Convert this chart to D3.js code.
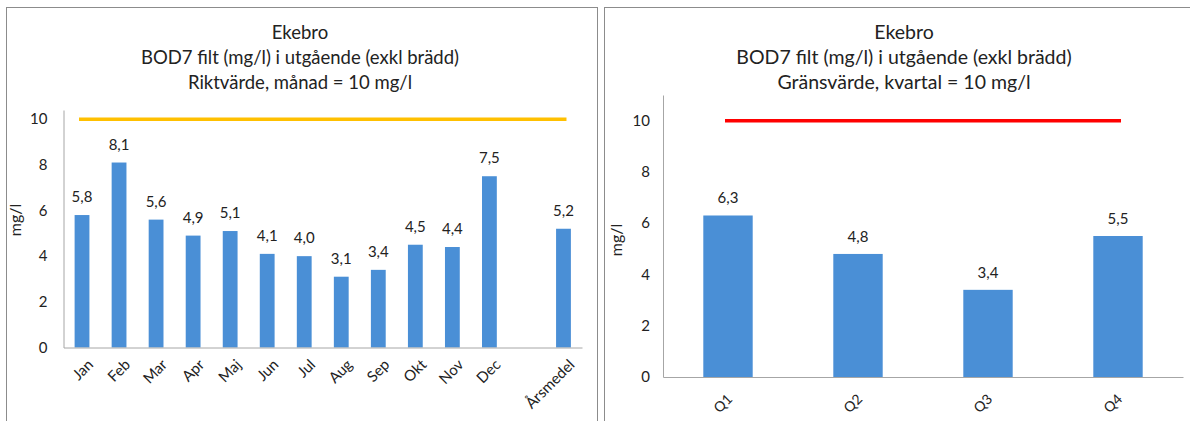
<!DOCTYPE html>
<html>
<head>
<meta charset="utf-8">
<script src="https://cdn.jsdelivr.net/npm/d3@7"></script>
<style>
  body { margin: 0; background: #fff; }
  svg { display: block; font-family: Lato, "Noto Sans", sans-serif; }
</style>
</head>
<body>
<div id="graph"></div>
<script>
// monthly chart
var months = ["Jan", "Feb", "Mar", "Apr", "Maj", "Jun", "Jul", "Aug", "Sep", "Okt", "Nov", "Dec", "", "Årsmedel"]
var monthValues = [5.8, 8.1, 5.6, 4.9, 5.1, 4.1, 4.0, 3.1, 3.4, 4.5, 4.4, 7.5, null, 5.2]
var monthTitle = ["Ekebro", "BOD7 filt (mg/l) i utgående (exkl brädd)", "Riktvärde, månad = 10 mg/l"]
var monthLimit = 10

// quarterly chart
var quarters = ["Q1", "Q2", "Q3", "Q4"]
var quarterValues = [6.3, 4.8, 3.4, 5.5]
var quarterTitle = ["Ekebro", "BOD7 filt (mg/l) i utgående (exkl brädd)", "Gränsvärde, kvartal = 10 mg/l"]
var quarterLimit = 10

var yTicks = [0, 2, 4, 6, 8, 10]

var width = 1190, height = 421
var svg = d3.select("#graph").append("svg").attr("width", width).attr("height", height)

function fmt(v) { return d3.format(".1f")(v).replace(".", ",") }

function drawPanel(opt) {
    var g = svg.append("g")

    // frame
    g.append("rect")
        .attr("x", opt.frame[0] + 0.5).attr("y", 7.5)
        .attr("width", opt.frame[1] - opt.frame[0]).attr("height", 440)
        .attr("fill", "#fff").attr("stroke", "#8c8c8c")

    var x = d3.scaleBand()
        .domain(opt.cats.map(function(d, i) { return i }))
        .range([opt.left, opt.right])
        .paddingInner(opt.pad).paddingOuter(opt.pad / 2)

    var y = d3.scaleLinear().domain([0, opt.yMax]).range([opt.bottom, opt.top])

    // title
    g.append("g").selectAll("text")
        .data(opt.title)
        .enter().append("text")
        .attr("x", opt.titleX)
        .attr("y", function(d, i) { return 39 + i * 25 })
        .attr("text-anchor", "middle")
        .attr("font-size", opt.titleFont)
        .attr("fill", "#222")
        .text(function(d) { return d })

    // y axis
    var yAxis = g.append("g")
        .attr("transform", "translate(" + opt.left + ",0)")
        .call(d3.axisLeft(y).tickValues(yTicks).tickSize(0).tickPadding(opt.tickPad))
    yAxis.select(".domain").attr("stroke", "#a6a6a6")
    yAxis.selectAll("text").attr("font-size", 15).attr("fill", "#222").attr("font-family", "Lato")

    g.append("text")
        .attr("transform", "translate(" + opt.yTitle[0] + "," + opt.yTitle[1] + ") rotate(-90)")
        .attr("text-anchor", "middle")
        .attr("font-size", 16).attr("fill", "#222")
        .text("mg/l")

    // bars + value labels
    var bars = g.append("g")
    opt.values.forEach(function(v, i) {
        if (v == null) return
        bars.append("rect")
            .attr("x", x(i)).attr("width", x.bandwidth())
            .attr("y", y(v)).attr("height", y(0) - y(v))
            .attr("fill", "#4a8fd6")
        bars.append("text")
            .attr("x", x(i) + x.bandwidth() / 2)
            .attr("y", y(v) - opt.labelGap)
            .attr("text-anchor", "middle")
            .attr("font-size", 15).attr("fill", "#222")
            .text(fmt(v))
    })

    // x axis
    var xAxis = g.append("g")
        .attr("transform", "translate(0," + opt.bottom + ")")
        .call(d3.axisBottom(x).tickSize(0).tickFormat(function(i) { return opt.cats[i] }))
    xAxis.select(".domain").attr("stroke", "#a6a6a6")
    xAxis.selectAll("text")
        .attr("font-size", opt.xFont).attr("fill", "#222").attr("font-family", "Lato")
        .attr("text-anchor", "end")
        .attr("dy", null)
        .attr("transform", "translate(" + opt.xLab[0] + "," + opt.xLab[1] + ") rotate(-45)")

    // limit line
    g.append("line")
        .attr("x1", x(0) + x.bandwidth() / 2 - 3)
        .attr("x2", x(opt.cats.length - 1) + x.bandwidth() / 2 + 3)
        .attr("y1", y(opt.limit)).attr("y2", y(opt.limit))
        .attr("stroke", opt.limitColor).attr("stroke-width", 3.5)
}

drawPanel({
    frame: [6, 597], cats: months, values: monthValues, title: monthTitle,
    limit: monthLimit, limitColor: "#ffc000",
    left: 63.5, right: 582, top: 110, bottom: 347.5, yMax: 10.4, pad: 0.6,
    titleX: 300, titleFont: 18.5, yTitle: [21, 220], tickPad: 16, labelGap: 13, xLab: [10, 16], xFont: 15
})

drawPanel({
    frame: [604, 1200], cats: quarters, values: quarterValues, title: quarterTitle,
    limit: quarterLimit, limitColor: "#ff0000",
    left: 663, right: 1183, top: 95, bottom: 377, yMax: 11, pad: 0.62,
    titleX: 904, titleFont: 19.5, yTitle: [622, 240], tickPad: 13, labelGap: 12, xLab: [3, 21], xFont: 14
})
</script>
</body>
</html>
